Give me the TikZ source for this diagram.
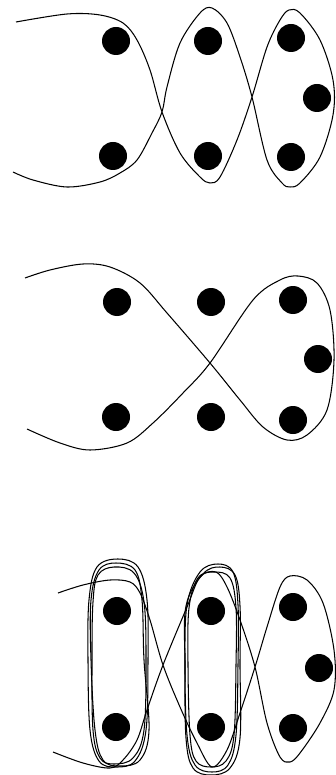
\documentclass[tikz,border=0pt]{standalone}
\begin{document}
\begin{tikzpicture}[x=1pt,y=-1pt,
  dot/.style={circle,fill=black,inner sep=0pt,minimum size=28pt},
  curve/.style={line width=1.05pt,black,line join=round}]
\useasboundingbox (0,0) rectangle (335,775);
% ---------- panel 1 ----------
\foreach \n/\x/\y in {a1/116/41,a2/113/156,a3/208/41,a4/208/156,a5/291/38,a6/317/98,a7/291/157}
  \node[dot] (\n) at (\x,\y) {};
\draw[curve] plot[smooth,tension=0.55] coordinates {
 (16,22) (67,14) (100,15) (123,23) (137,40) (150,70) (162,112) (180,153) (200,177) (210,183)
 (220,177) (237,140) (252,97) (267,47) (280,20) (289,10) (300,13) (320,40) (333,80) (333,115)
 (320,157) (300,183) (290,187) (282,183) (267,160) (252,97) (240,57) (227,23) (212,8) (200,13)
 (180,43) (167,87) (162,112) (152,133) (137,160) (120,173) (100,182) (67,187) (33,180) (13,172)};
% ---------- panel 2 ----------
\foreach \n/\x/\y in {b1/117/302,b2/211/302,b3/293/300,b4/318/359,b5/116/417,b6/211/417,b7/293/420}
  \node[dot] (\n) at (\x,\y) {};
\draw[curve] plot[smooth,tension=0.55] coordinates {
 (25,278) (50,270) (83,264) (110,267) (140,283) (167,313) (210,363) (240,400) (263,427) (287,440)
 (307,435) (327,410) (334,360) (330,310) (317,283) (298,276) (280,280) (253,300) (210,363)
 (183,393) (153,423) (127,443) (90,450) (60,443) (27,429)};
% ---------- panel 3 ----------
\foreach \n/\x/\y in {c1/117/611,c2/211/611,c3/293/607,c4/319/668,c5/116/727,c6/211/727,c7/293/728}
  \node[dot] (\n) at (\x,\y) {};
\draw[curve] plot[smooth,tension=0.55] coordinates {
 (58,593) (83,585) (110,580) (130,582) (140,593) (150,620) (163,665) (180,707) (197,743) (212,767)
 (227,750) (240,713) (255,667) (267,627) (280,587) (290,576) (307,580) (323,603) (334,650) (334,690)
 (320,723) (300,753) (290,762) (280,757) (267,723) (255,667) (240,620) (227,587) (216,572) (200,577)
 (187,607) (163,665) (147,710) (137,740) (123,760) (110,768) (83,763) (53,752)};
% left column loops
\draw[curve] plot[smooth cycle,tension=0.6] coordinates {
 (118,559) (138,567) (147,600) (148,660) (146,730) (135,761) (116,767) (99,761) (90,730) (88,660) (89,600) (97,567)};
\draw[curve] plot[smooth cycle,tension=0.6] coordinates {
 (114,567) (134,573) (144,602) (146,660) (144,730) (133,758) (114,764) (100,758) (93,730) (92,660) (93,602) (98,575)};
\draw[curve] plot[smooth cycle,tension=0.6] coordinates {
 (116,563) (135,570) (142,600) (144,660) (149,730) (140,760) (120,766) (103,760) (95,730) (91,660) (91,600) (99,570)};
% middle column loops
\draw[curve] plot[smooth cycle,tension=0.6] coordinates {
 (218,564) (233,572) (238,605) (238,665) (236,735) (228,765) (212,772) (195,765) (187,735) (185,665) (187,605) (200,572)};
\draw[curve] plot[smooth cycle,tension=0.6] coordinates {
 (214,572) (230,578) (236,608) (236,665) (234,735) (226,761) (211,767) (196,761) (190,735) (188,665) (189,608) (198,578)};
\draw[curve] plot[smooth cycle,tension=0.6] coordinates {
 (220,567) (235,575) (240,606) (240,665) (240,738) (230,768) (211,775) (193,768) (186,738) (185,665) (186,606) (203,574)};
\end{tikzpicture}
\end{document}
